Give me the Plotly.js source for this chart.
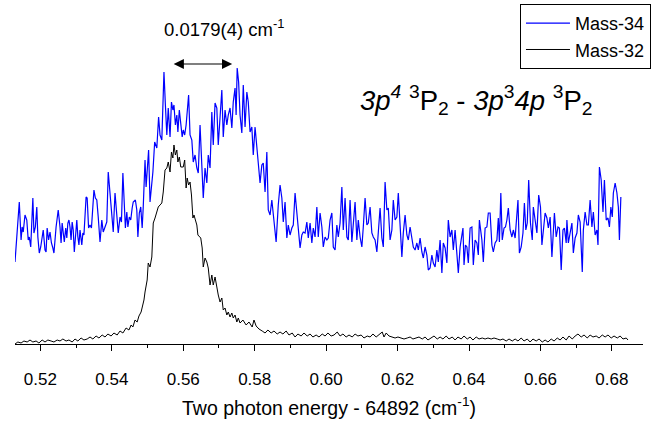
<!DOCTYPE html>
<html>
<head>
<meta charset="utf-8">
<script src="https://cdn.plot.ly/plotly-3.0.1.min.js"></script>
<style>html,body{margin:0;padding:0;background:#fff;}#chart{width:654px;height:425px;}</style>
</head>
<body>
<div id="chart"></div>
<script>
// Two photon energy offset from 64892 cm^-1
var blueX = [
0.5129,0.5141,0.5146,0.5149,0.5152,0.5157,0.5162,0.5166,0.5169,0.5173,
0.5179,0.5182,0.5186,0.5190,0.5193,0.5197,0.5201,0.5205,0.5208,0.5213,
0.5216,0.5219,0.5223,0.5227,0.5231,0.5235,0.5238,0.5244,0.5250,0.5255,
0.5258,0.5261,0.5264,0.5267,0.5271,0.5274,0.5277,0.5280,0.5283,0.5286,
0.5289,0.5292,0.5295,0.5299,0.5302,0.5305,0.5308,0.5311,0.5314,0.5316,
0.5319,0.5322,0.5328,0.5331,0.5335,0.5339,0.5343,0.5347,0.5350,0.5354,
0.5358,0.5362,0.5367,0.5372,0.5376,0.5381,0.5386,0.5390,0.5395,0.5400,
0.5404,0.5409,0.5414,0.5418,0.5423,0.5427,0.5431,0.5434,0.5438,0.5442,
0.5445,0.5449,0.5453,0.5457,0.5460,0.5466,0.5470,0.5473,0.5477,0.5481,
0.5485,0.5488,0.5493,0.5496,0.5499,0.5503,0.5507,
0.5515,0.5520,0.5526,0.5531,0.5535,0.5540,0.5546,0.5550,0.5554,0.5558,
0.5563,0.5567,0.5571,0.5574,0.5578,0.5582,0.5585,0.5589,0.5593,0.5597,
0.5600,0.5604,0.5608,0.5611,0.5615,0.5619,0.5624,0.5628,0.5633,0.5638,
0.5642,0.5647,0.5652,0.5656,0.5661,0.5666,0.5670,0.5675,0.5680,0.5684,
0.5689,0.5694,0.5698,0.5703,0.5708,0.5712,0.5717,0.5722,0.5726,0.5731,
0.5736,0.5740,0.5745,0.5748,0.5751,0.5755,0.5759,0.5764,0.5768,0.5773,
0.5778,0.5782,0.5787,0.5792,0.5796,0.5801,0.5806,0.5810,0.5815,0.5820,
0.5824,0.5829,0.5834,0.5838,0.5843,0.5848,0.5852,0.5857,0.5860,0.5866,
0.5871,0.5876,0.5880,0.5885,0.5890,0.5894,0.5899,0.5904,0.5908,0.5913,
0.5918,0.5922,0.5927,0.5932,0.5936,0.5941,0.5946,0.5950,0.5955,0.5960,
0.5964,0.5969,0.5974,0.5978,0.5983,0.5988,0.5992,0.5997,0.6002,0.6006,
0.6011,0.6016,0.6020,0.6025,0.6030,0.6034,0.6039,0.6044,0.6048,0.6053,
0.6058,0.6062,0.6067,0.6072,0.6076,0.6081,0.6086,0.6090,0.6095,0.6100,
0.6104,0.6109,0.6114,0.6118,0.6123,0.6128,0.6132,0.6137,0.6142,0.6146,
0.6151,0.6156,0.6160,0.6165,0.6170,0.6174,0.6179,0.6184,0.6188,0.6193,
0.6198,0.6202,0.6207,0.6212,0.6216,0.6221,0.6226,0.6230,0.6235,0.6240,
0.6244,0.6249,0.6254,0.6258,0.6263,0.6268,0.6272,0.6277,0.6282,0.6286,
0.6291,0.6296,0.6300,0.6305,0.6310,0.6314,0.6319,0.6324,0.6328,0.6333,
0.6338,0.6342,0.6347,0.6352,0.6356,0.6361,0.6366,0.6370,0.6375,0.6380,
0.6383,0.6386,0.6390,0.6394,0.6398,0.6403,0.6408,0.6412,0.6417,0.6422,
0.6426,0.6429,0.6436,0.6440,0.6445,0.6450,0.6454,0.6459,0.6464,0.6468,
0.6473,0.6478,0.6482,0.6485,0.6489,0.6493,0.6498,0.6502,0.6506,0.6510,
0.6515,0.6520,0.6524,0.6529,0.6534,0.6537,0.6541,0.6546,0.6551,0.6555,
0.6559,0.6563,0.6567,0.6572,0.6577,0.6580,0.6585,0.6590,0.6595,0.6600,
0.6604,0.6608,0.6613,0.6618,0.6622,0.6627,0.6632,0.6636,0.6639,0.6644,
0.6649,0.6653,0.6658,0.6663,0.6667,0.6672,0.6674,0.6678,0.6683,0.6688,
0.6692,0.6697,0.6702,0.6706,0.6711,0.6717,0.6720,0.6725,0.6730,0.6734,
0.6739,0.6744,0.6748,0.6753,0.6758,0.6761,0.6765,0.6770,0.6775,0.6779,
0.6784,0.6789,0.6793,0.6797,0.6801,0.6804,0.6809,0.6814,0.6818,0.6821,
0.6825];
var blueY = [
82,142,104,117,112,129,124,104,107,97,
146,111,117,137,107,91,97,107,114,94,
92,116,104,112,101,96,91,117,134,117,
101,121,107,102,116,106,121,124,117,104,
122,114,92,117,124,107,99,114,104,99,
111,109,147,146,116,119,116,141,154,146,
144,127,102,124,112,117,122,172,151,127,
112,151,127,111,127,122,171,141,116,132,
117,127,124,136,142,144,134,107,131,137,
116,137,184,157,176,194,142,
172,202,196,227,209,204,272,239,209,236,
207,242,234,239,219,229,212,234,222,207,
214,209,219,234,249,209,204,182,189,176,
171,219,169,146,176,161,189,176,232,199,
241,236,199,226,254,207,234,219,229,236,
216,242,256,229,276,262,229,211,259,217,
252,242,212,217,189,217,196,176,161,179,
181,152,192,134,129,144,131,116,102,139,
159,146,122,142,106,119,109,116,119,151,
129,116,96,109,112,111,122,106,121,101,
116,107,137,107,131,117,97,107,104,106,
124,131,97,94,119,107,121,157,114,146,
107,104,144,102,117,142,104,124,107,97,
117,146,119,121,137,111,107,104,92,114,
136,106,97,162,134,136,104,114,144,124,
127,151,114,87,111,129,109,104,117,104,
97,94,101,94,106,92,86,97,89,74,
76,89,81,77,94,82,104,71,101,96,
81,124,107,114,94,114,91,71,97,107,
116,79,99,97,81,116,117,79,104,101,
89,124,104,82,116,117,131,131,99,92,
101,104,126,102,151,104,116,117,124,136,
114,107,114,106,136,144,91,97,111,141,
114,121,164,121,104,137,124,111,149,137,
99,116,131,126,116,127,87,112,131,107,
117,116,74,114,116,101,124,101,111,121,
91,106,111,129,122,72,114,132,119,119,
144,117,132,109,114,99,177,164,132,164,
124,126,117,137,127,151,161,151,137,104,
147];
var blackX = [
0.5129,0.5137,0.5146,0.5154,0.5163,0.5171,0.5179,0.5188,0.5196,0.5205,
0.5213,0.5221,0.5230,0.5238,0.5247,0.5255,0.5263,0.5272,0.5280,0.5289,
0.5297,0.5305,0.5314,0.5322,0.5331,0.5339,0.5347,0.5356,0.5364,0.5373,
0.5381,0.5389,0.5398,0.5406,0.5415,0.5423,0.5431,0.5440,0.5448,0.5454,
0.5459,0.5465,0.5471,0.5476,0.5482,0.5487,0.5490,0.5493,0.5496,0.5499,
0.5502,0.5507,0.5512,0.5516,0.5521,0.5526,0.5530,0.5535,0.5540,0.5544,
0.5549,0.5554,0.5558,0.5563,0.5567,0.5571,0.5574,0.5578,0.5582,0.5585,
0.5589,0.5593,0.5597,0.5600,0.5604,0.5608,0.5611,0.5615,0.5619,0.5623,
0.5627,0.5630,0.5634,0.5638,0.5641,0.5645,0.5649,0.5653,0.5656,0.5661,
0.5666,0.5670,0.5675,0.5680,0.5684,0.5689,0.5694,0.5698,0.5703,0.5708,
0.5712,0.5717,0.5722,0.5726,0.5731,0.5736,0.5740,0.5745,0.5750,0.5754,
0.5759,0.5767,0.5776,0.5784,0.5793,0.5798,0.5804,0.5812,0.5821,0.5829,
0.5837,0.5846,0.5854,0.5863,0.5871,0.5879,0.5888,0.5896,0.5905,0.5913,
0.5921,0.5930,0.5938,0.5947,0.5955,0.5963,0.5972,0.5980,0.5989,0.5997,
0.6005,0.6014,0.6022,0.6031,0.6039,0.6047,0.6056,0.6064,0.6073,0.6081,
0.6089,0.6098,0.6106,0.6115,0.6123,0.6131,0.6140,0.6148,0.6157,0.6162,
0.6168,0.6176,0.6185,0.6193,0.6201,0.6210,0.6218,0.6227,0.6235,0.6243,
0.6252,0.6260,0.6269,0.6277,0.6285,0.6294,0.6302,0.6311,0.6319,0.6327,
0.6336,0.6344,0.6353,0.6361,0.6369,0.6378,0.6386,0.6395,0.6403,0.6411,
0.6420,0.6428,0.6437,0.6445,0.6453,0.6462,0.6470,0.6479,0.6487,0.6495,
0.6504,0.6512,0.6521,0.6529,0.6537,0.6546,0.6554,0.6563,0.6571,0.6579,
0.6588,0.6596,0.6605,0.6613,0.6621,0.6630,0.6638,0.6647,0.6655,0.6663,
0.6672,0.6680,0.6689,0.6697,0.6705,0.6714,0.6722,0.6731,0.6739,0.6747,
0.6756,0.6764,0.6773,0.6781,0.6789,0.6798,0.6806,0.6815,0.6823,0.6831,
0.6840,0.6845];
var blackY = [
0,2,1,3,2,4,2,3,1,4,
2,4,3,2,4,3,5,3,4,2,
5,3,6,4,5,7,5,8,6,9,
7,10,8,11,9,13,11,16,14,19,
17,24,22,28,32,38,44,52,60,64,
81,77,87,121,126,131,137,139,141,152,
174,176,182,172,192,186,199,189,194,182,
187,177,177,177,184,156,166,159,162,149,
126,129,124,119,109,107,106,96,77,86,
82,76,59,69,59,67,56,49,42,46,
34,36,29,32,27,31,26,29,22,26,
21,24,19,22,17,24,18,15,13,11,
14,11,13,10,12,10,13,9,11,7,
10,8,11,8,10,7,9,7,10,8,
11,8,9,12,8,10,7,9,7,10,
8,9,6,8,7,10,7,9,12,7,
11,8,7,6,7,6,5,6,7,5,
6,7,5,7,4,6,8,5,7,5,
8,5,7,4,7,5,8,5,7,4,
7,5,6,5,6,5,6,5,4,5,
3,5,3,5,3,6,3,5,2,5,
3,5,2,4,2,5,3,6,4,7,
4,8,5,8,10,7,9,6,9,7,
8,6,9,7,9,6,8,6,8,5,
6,4];
var seriesNames = ['Mass-34', 'Mass-32'];
var splitting = {from: 0.5569, to: 0.5737, level: 280, label: '0.0179(4) cm<sup>-1</sup>'};

var FONT = 'Liberation Sans, Arial, Helvetica, sans-serif';
var traces = [
  {x: blueX, y: blueY, type: 'scatter', mode: 'lines', name: seriesNames[0],
   line: {color: '#0000ff', width: 1.2}},
  {x: blackX, y: blackY, type: 'scatter', mode: 'lines', name: seriesNames[1],
   line: {color: '#000000', width: 1}}
];
var layout = {
  width: 654, height: 425,
  margin: {l: 15, r: 11, t: 0, b: 81},
  paper_bgcolor: '#fff', plot_bgcolor: '#fff',
  font: {family: FONT, color: '#000'},
  showlegend: true,
  legend: {x: 1.0127, xanchor: 'right', y: 0.9887, yanchor: 'top',
           bordercolor: '#000', borderwidth: 1, bgcolor: '#fff', itemwidth: 44,
           font: {family: FONT, size: 18, color: '#000'}, tracegroupgap: 0},
  xaxis: {
    range: [0.5129, 0.6887], showgrid: false, zeroline: false,
    showline: true, linecolor: '#000', linewidth: 1,
    ticks: 'outside', ticklen: 6, tickwidth: 1, tickcolor: '#000',
    dtick: 0.02, tick0: 0, tickformat: '.2f',
    minor: {dtick: 0.01, ticks: 'outside', ticklen: 3, tickwidth: 1, tickcolor: '#000', showgrid: false},
    tickfont: {family: FONT, size: 17, color: '#000'},
    ticklabelstandoff: 14,
    title: {text: 'Two photon energy - 64892 (cm<sup>-1</sup>)', font: {family: FONT, size: 19.5, color: '#000'}, standoff: 12},
    automargin: false
  },
  yaxis: {range: [0, 344], visible: false, showgrid: false, zeroline: false, fixedrange: true},
  annotations: [
    {x: splitting.to, y: splitting.level, ax: splitting.from, ay: splitting.level,
     xref: 'x', yref: 'y', axref: 'x', ayref: 'y', text: '', showarrow: true,
     arrowside: 'end+start', arrowhead: 2, arrowsize: 1.7, arrowwidth: 1.2, arrowcolor: '#000'},
    {x: 0.5716, y: 316, xref: 'x', yref: 'y', text: splitting.label, showarrow: false,
     font: {family: FONT, size: 18.5, color: '#000'}},
    {x: 0.6420, y: 244, xref: 'x', yref: 'y', showarrow: false,
     text: '<i>3p</i><sup><i>4</i></sup> <sup>3</sup>P<sub>2</sub> - <i>3p</i><sup>3</sup><i>4p</i> <sup>3</sup>P<sub>2</sub>',
     font: {family: FONT, size: 27.5, color: '#000'}}
  ]
};
Plotly.newPlot('chart', traces, layout, {displayModeBar: false, staticPlot: true});
</script>
</body>
</html>
